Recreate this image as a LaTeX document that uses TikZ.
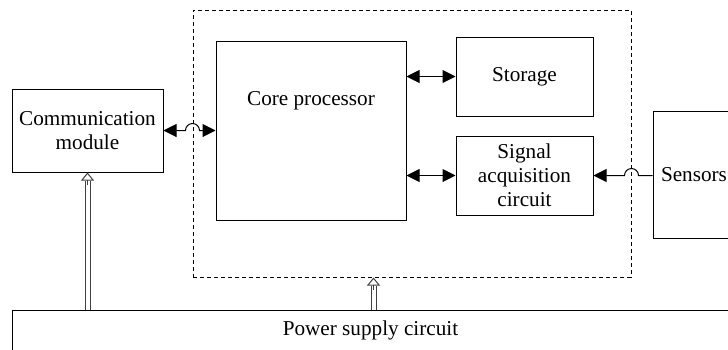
\documentclass[tikz,border=0pt]{standalone}
\usepackage{fontspec}
\setmainfont{Liberation Serif}
\usetikzlibrary{arrows.meta,calc}

\tikzset{
  blk/.style={draw, line width=0.5pt, inner sep=0pt, align=center, font=\fontsize{10.6}{12}\selectfont},
  biarrow/.style={{Triangle[length=6.5pt,width=6.5pt]}-{Triangle[length=6.5pt,width=6.5pt]}, line width=0.5pt},
  fwdarrow/.style={-{Triangle[length=6.5pt,width=6.5pt]}, line width=0.5pt},
  powline/.style={double=white, draw=black!75, double distance=2pt, line width=0.5pt, shorten >=4pt},
  powtip/.style={draw=black!75, line width=0.5pt, -{Triangle[open,length=4pt,width=6.5pt]}},
}

\begin{document}
\begin{tikzpicture}[x=0.5pt,y=-0.5pt]
    \useasboundingbox (0,0) rectangle (728,349);
    % dashed frame of the processing unit
    \node[draw, line width=0.5pt, dash pattern=on 2pt off 1.5pt, minimum width=219pt, minimum height=133.5pt] (unit) at (412,143.5) {};
    \node[blk, minimum width=95pt, minimum height=89.5pt] (core) at (311,130.5) {};
    \node[font=\fontsize{10.6}{12}\selectfont] (corelbl) at ($(core.north)+(0,60)$) {Core processor};
    \node[blk, minimum width=68.5pt, minimum height=39.5pt] (stor) at (524.5,76.5) {Storage};
    \node[blk, minimum width=68.5pt, minimum height=39.5pt] (sig) at (524.5,175.5) {Signal\\acquisition\\circuit};
    % outside blocks
    \node[blk, minimum width=75.5pt, minimum height=41.5pt] (comm) at (87.5,130.5) {Communication\\module};
    \node[blk, minimum width=41pt, minimum height=63.5pt] (sens) at (694,174.5) {Sensors};
    \node[blk, minimum width=358.5pt, minimum height=20.5pt] (pow) at (370.5,330.5) {Power supply circuit};
    % data links
    \draw[biarrow] (comm.east) -- ($(comm.east -| unit.west)+(-3.5pt,0)$) arc[start angle=180,end angle=0,radius=3.5pt] -- (core.west |- comm.east);
    \draw[biarrow] (core.east |- stor.west) -- (stor.west);
    \draw[biarrow] (core.east |- sig.west) -- (sig.west);
    \draw[fwdarrow] (sens.west |- sig.east) -- ($(sig.east -| unit.east)+(3.5pt,0)$) arc[start angle=0,end angle=180,radius=3.5pt] -- (sig.east);
    % power feeds
    \coordinate (feed) at ($(unit.south)+(-38.5,0)$);
    \draw[powline] (pow.north -| comm.south) -- (comm.south);
    \draw[powtip] ($(comm.south)+(0,12)$) -- (comm.south);
    \draw[powline] (pow.north -| feed) -- (feed);
    \draw[powtip] ($(feed)+(0,12)$) -- (feed);
\end{tikzpicture}
\end{document}
